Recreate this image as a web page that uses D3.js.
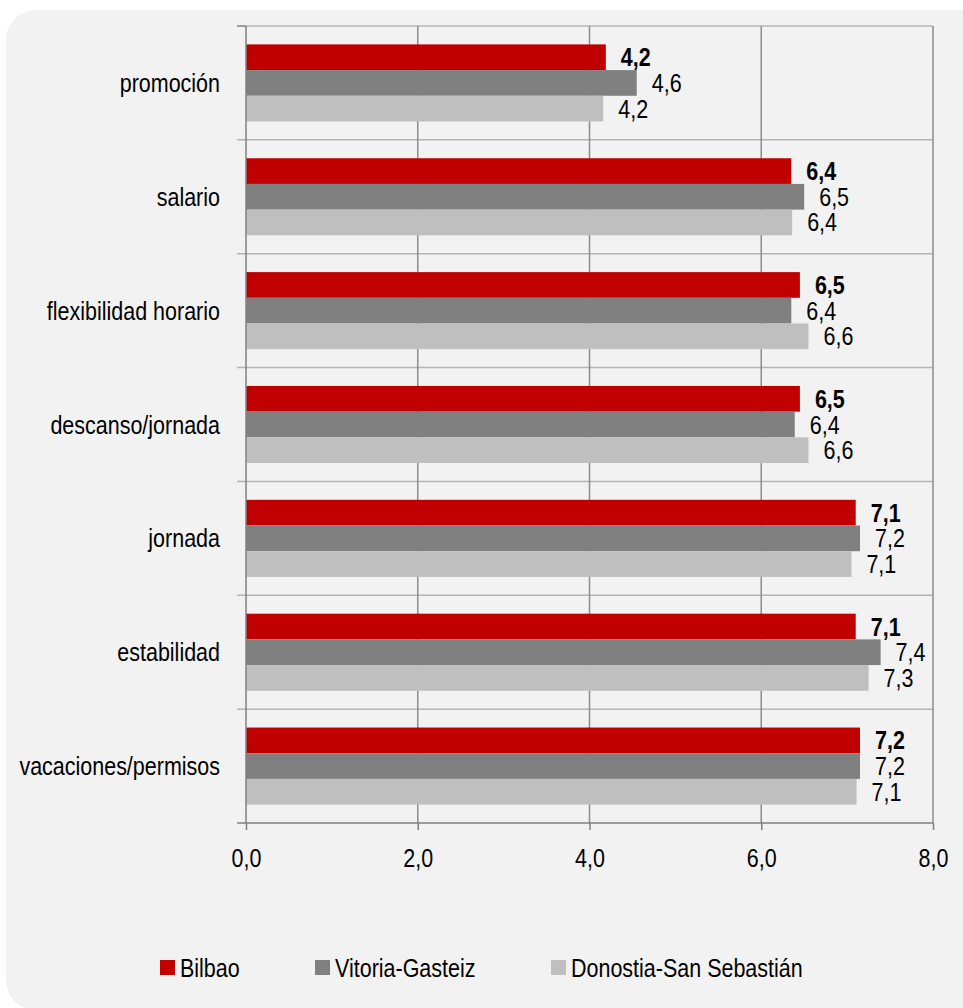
<!DOCTYPE html>
<html><head><meta charset="utf-8">
<script src="https://cdn.jsdelivr.net/npm/d3@7"></script>
<style>
html,body{margin:0;padding:0;background:#fff;}
text{font-family:"Liberation Sans",Arial,sans-serif;}
</style></head>
<body>
<svg id="chart" width="963" height="1008"></svg>
<script>
const categories = ["promoción","salario","flexibilidad horario","descanso/jornada","jornada","estabilidad","vacaciones/permisos"];
const seriesNames = ["Bilbao","Vitoria-Gasteiz","Donostia-San Sebastián"];
const bilbao   = [4.19, 6.35, 6.45, 6.45, 7.10, 7.10, 7.15];
const vitoria  = [4.55, 6.50, 6.35, 6.39, 7.15, 7.39, 7.15];
const donostia = [4.16, 6.36, 6.55, 6.55, 7.05, 7.25, 7.11];
const bilbaoLabels   = ["4,2","6,4","6,5","6,5","7,1","7,1","7,2"];
const vitoriaLabels  = ["4,6","6,5","6,4","6,4","7,2","7,4","7,2"];
const donostiaLabels = ["4,2","6,4","6,6","6,6","7,1","7,3","7,1"];
const xTicks = [0,2,4,6,8];
const colors = ["#c00000","#808080","#bfbfbf"];

const series = [
  {name: seriesNames[0], values: bilbao, labels: bilbaoLabels, color: colors[0], bold: true},
  {name: seriesNames[1], values: vitoria, labels: vitoriaLabels, color: colors[1], bold: false},
  {name: seriesNames[2], values: donostia, labels: donostiaLabels, color: colors[2], bold: false}
];
const FS = 25, SX = 0.86;

const svg = d3.select("#chart");
svg.append("rect").attr("x",6).attr("y",10).attr("width",990).attr("height",1000)
  .attr("rx",30).attr("ry",30).attr("fill","#f2f2f2");

// condensed text helper
function ctext(sel, px, py, str, anchor, bold){
  return sel.append("text")
    .attr("transform",`translate(${px},${py}) scale(${SX},1)`)
    .attr("dy","0.36em")
    .attr("text-anchor",anchor||"start")
    .attr("font-size",FS+"px")
    .attr("font-weight",bold?"bold":"normal")
    .attr("fill","#000")
    .text(str);
}

const L = 246, R = 933, T = 26, B = 823;
const x = d3.scaleLinear().domain([0,8]).range([L,R]);
const y0 = d3.scaleBand().domain(categories).range([T,B]).padding(0);
const y1 = d3.scaleBand().domain(d3.range(3)).range([0,y0.bandwidth()]).paddingInner(0).paddingOuter(0.716);

svg.append("line").attr("x1",L).attr("x2",R).attr("y1",T).attr("y2",T)
  .attr("stroke","#b4b4b4").attr("stroke-width",1.5);
categories.slice(1).forEach(c=>{
  const yy = y0(c);
  svg.append("line").attr("x1",L-9).attr("x2",R).attr("y1",yy).attr("y2",yy)
    .attr("stroke","#b4b4b4").attr("stroke-width",1.5);
});
svg.append("line").attr("x1",L-9).attr("x2",L).attr("y1",T).attr("y2",T)
  .attr("stroke","#808080").attr("stroke-width",1.5);
xTicks.slice(1).forEach(t=>{
  svg.append("line").attr("x1",x(t)).attr("x2",x(t)).attr("y1",T).attr("y2",B)
    .attr("stroke","#8c8c8c").attr("stroke-width",1.5);
});

const g = svg.append("g");
series.forEach((s,si)=>{
  g.selectAll(null).data(categories).enter().append("rect")
    .attr("x",x(0))
    .attr("y",(c)=>y0(c)+y1(si))
    .attr("width",(c,i)=>x(s.values[i])-x(0))
    .attr("height",y1.bandwidth())
    .attr("fill",s.color);
  categories.forEach((c,i)=>{
    ctext(g, x(s.values[i])+15, y0(c)+y1(si)+y1.bandwidth()/2, s.labels[i], "start", s.bold);
  });
});

svg.append("line").attr("x1",L).attr("x2",L).attr("y1",T).attr("y2",B)
  .attr("stroke","#808080").attr("stroke-width",1.5);
const xAxis = d3.axisBottom(x).tickValues(xTicks).tickSize(7).tickSizeOuter(0)
  .tickFormat(d=>d3.format(".1f")(d).replace(".",","));
const ax = svg.append("g").attr("transform",`translate(0,${B})`).call(xAxis);
ax.select(".domain").attr("stroke","#808080").attr("stroke-width",1.5).attr("d",`M${L-9},0H${R}`);
ax.selectAll(".tick line").attr("stroke","#808080").attr("stroke-width",1.5);
ax.selectAll(".tick text").attr("font-size",FS+"px").attr("fill","#000")
  .attr("font-family","'Liberation Sans',Arial,sans-serif")
  .attr("y",null).attr("dy","0.36em")
  .attr("transform",`translate(0,35) scale(${SX},1)`);

categories.forEach(c=>{
  ctext(svg, 220, y0(c)+y0.bandwidth()/2, c, "end", false);
});

const legendX = [160, 315, 551];
series.forEach((s,i)=>{
  svg.append("rect").attr("x",legendX[i]).attr("y",960).attr("width",15).attr("height",15).attr("fill",s.color);
  ctext(svg, legendX[i]+20, 967.5, s.name, "start", false);
});
</script>
</body></html>
